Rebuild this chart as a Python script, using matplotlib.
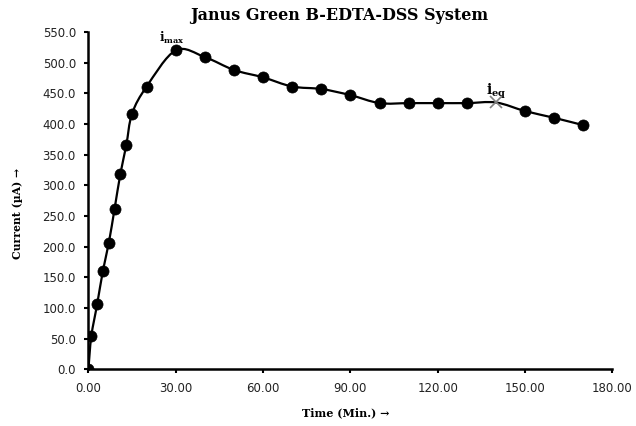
import numpy as np
import matplotlib
matplotlib.use("Agg")
import matplotlib.pyplot as plt
from matplotlib.path import Path
from matplotlib.patches import PathPatch


# readings
time_min = [0, 1, 3, 5, 7, 9, 11, 13, 15, 20, 30, 40, 50, 60, 70, 80, 90,
            100, 110, 120, 130, 140, 150, 160, 170]
current_ua = [0, 54, 106, 161, 206, 262, 319, 365, 417, 461, 520, 509, 488,
              476, 461, 457, 447, 434, 434, 434, 434, 435, 421, 410, 398]
eq_index = 21        # this point is drawn as a cross (i_eq)
max_index = 10       # i_max

x_ticks = np.arange(0, 181, 30)
y_ticks = np.arange(0, 551, 50)


def smooth_path(xs, ys):
    """Excel-like smoothed line: Catmull-Rom segments as cubic Beziers."""
    pts = np.column_stack([xs, ys]).astype(float)
    n = len(pts)
    verts = [pts[0]]
    codes = [Path.MOVETO]
    for i in range(n - 1):
        p0 = pts[i - 1] if i > 0 else pts[i]
        p1 = pts[i]
        p2 = pts[i + 1]
        p3 = pts[i + 2] if i + 2 < n else pts[i + 1]
        c1 = p1 + (p2 - p0) / 6.0
        c2 = p2 - (p3 - p1) / 6.0
        verts += [c1, c2, p2]
        codes += [Path.CURVE4] * 3
    return Path(verts, codes)


def main():
    plt.rcParams['mathtext.fontset'] = 'dejavuserif'

    fig = plt.figure(figsize=(6.36, 4.26), dpi=100)
    ax = fig.add_axes([0.139, 0.133, 0.824, 0.792])

    ax.add_patch(PathPatch(smooth_path(time_min, current_ua), fill=False,
                           lw=1.6, edgecolor='black', zorder=2))

    dots = [i for i in range(len(time_min)) if i != eq_index]
    ax.plot([time_min[i] for i in dots], [current_ua[i] for i in dots], 'o',
            color='black', markersize=8.0, mew=0.5, zorder=3)
    ax.plot(time_min[eq_index], current_ua[eq_index], 'x', color='#808080',
            markersize=8, mew=1.2, zorder=3)

    # point labels
    ax.annotate(r'$\mathbf{i_{max}}$', (time_min[max_index], current_ua[max_index]),
                xytext=(-3, 6), textcoords='offset points', ha='center',
                fontsize=8.5)
    ax.annotate(r'$\mathbf{i_{eq}}$', (time_min[eq_index], current_ua[eq_index]),
                xytext=(0, 6), textcoords='offset points', ha='center',
                fontsize=10)

    ax.set_xlim(0, 180)
    ax.set_ylim(0, 550)
    ax.set_xticks(x_ticks)
    ax.set_yticks(y_ticks)
    ax.set_xticklabels(["%.2f" % v for v in x_ticks])
    ax.set_yticklabels(["%.1f" % v for v in y_ticks])
    ax.tick_params(direction='out', length=3, width=1.5, labelsize=8.5,
                   colors='black', labelcolor='#222222', pad=6)

    for side in ('top', 'right'):
        ax.spines[side].set_visible(False)
    for side in ('left', 'bottom'):
        ax.spines[side].set_linewidth(1.8)

    fig.text(0.533, 0.963, "Janus Green B-EDTA-DSS System", ha='center',
             va='center', family='DejaVu Serif', weight='bold', fontsize=11.5)
    fig.text(0.544, 0.031, "Time (Min.) \u2192", ha='center', va='center',
             family='DejaVu Serif', weight='bold', fontsize=8)
    fig.text(0.028, 0.5, "Current (\u00b5A) \u2192", ha='center', va='center',
             rotation=90, family='DejaVu Serif', weight='bold', fontsize=7.8)

    fig.savefig("out.png", dpi=100)


if __name__ == "__main__":
    main()
